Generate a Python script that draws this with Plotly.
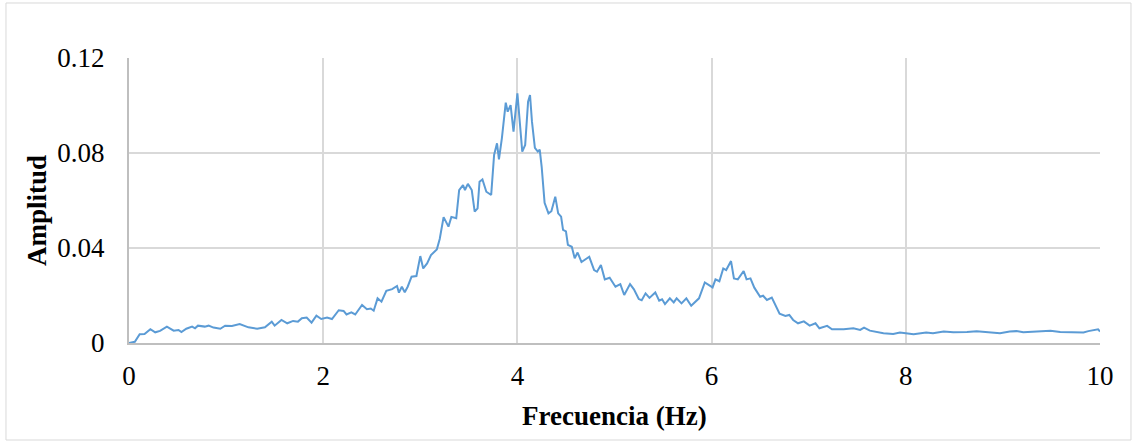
import plotly.graph_objects as go

freq = [0.00, 0.06, 0.11, 0.16, 0.22, 0.27, 0.32, 0.39, 0.46, 0.51, 0.54, 0.59, 0.65, 0.68, 0.71,
        0.78, 0.82, 0.87, 0.94, 0.99, 1.06, 1.14, 1.23, 1.32, 1.40, 1.47, 1.50, 1.57, 1.63, 1.69,
        1.74, 1.78, 1.83, 1.88, 1.93, 1.98, 2.04, 2.09, 2.16, 2.21, 2.24, 2.29, 2.33, 2.36, 2.40,
        2.45, 2.49, 2.52, 2.56, 2.60, 2.65, 2.71, 2.76, 2.78, 2.81, 2.84, 2.87, 2.91, 2.96, 3.00,
        3.03, 3.07, 3.11, 3.17, 3.20, 3.24, 3.29, 3.32, 3.37, 3.40, 3.44, 3.46, 3.49, 3.53, 3.56,
        3.59, 3.61, 3.64, 3.68, 3.73, 3.76, 3.79, 3.81, 3.84, 3.88, 3.90, 3.93, 3.96, 4.00, 4.05,
        4.08, 4.11, 4.13, 4.15, 4.18, 4.21, 4.23, 4.25, 4.28, 4.32, 4.35, 4.39, 4.42, 4.45, 4.47,
        4.50, 4.52, 4.56, 4.59, 4.62, 4.66, 4.74, 4.79, 4.82, 4.86, 4.90, 4.95, 5.01, 5.06, 5.10,
        5.16, 5.20, 5.25, 5.28, 5.32, 5.36, 5.42, 5.46, 5.49, 5.52, 5.57, 5.61, 5.64, 5.69, 5.74,
        5.79, 5.83, 5.87, 5.93, 6.01, 6.04, 6.08, 6.12, 6.15, 6.20, 6.23, 6.27, 6.33, 6.36, 6.40,
        6.44, 6.50, 6.53, 6.57, 6.62, 6.70, 6.76, 6.80, 6.84, 6.89, 6.95, 7.01, 7.07, 7.11, 7.19,
        7.24, 7.36, 7.46, 7.53, 7.57, 7.63, 7.77, 7.87, 7.94, 8.08, 8.21, 8.28, 8.39, 8.49, 8.63,
        8.73, 8.87, 8.97, 9.07, 9.14, 9.21, 9.31, 9.49, 9.59, 9.73, 9.83, 9.88, 9.98, 10.00]

amplitude = [0.0000, 0.0005, 0.0037, 0.0038, 0.0058, 0.0045, 0.0051, 0.0069, 0.0052, 0.0055, 0.0046, 0.0060, 0.0069, 0.0062, 0.0073,
             0.0069, 0.0073, 0.0065, 0.0060, 0.0073, 0.0072, 0.0080, 0.0066, 0.0060, 0.0066, 0.0090, 0.0073, 0.0097, 0.0083, 0.0093,
             0.0090, 0.0104, 0.0107, 0.0086, 0.0115, 0.0101, 0.0107, 0.0101, 0.0138, 0.0135, 0.0120, 0.0129, 0.0120, 0.0139, 0.0160,
             0.0142, 0.0145, 0.0136, 0.0188, 0.0174, 0.0220, 0.0227, 0.0240, 0.0212, 0.0237, 0.0214, 0.0237, 0.0279, 0.0282, 0.0366,
             0.0314, 0.0335, 0.0370, 0.0394, 0.0438, 0.0530, 0.0490, 0.0531, 0.0525, 0.0644, 0.0665, 0.0644, 0.0670, 0.0644, 0.0553,
             0.0567, 0.0679, 0.0689, 0.0637, 0.0623, 0.0792, 0.0841, 0.0773, 0.0862, 0.1012, 0.0974, 0.1002, 0.0890, 0.1051, 0.0806,
             0.0834, 0.1016, 0.1044, 0.0932, 0.0822, 0.0806, 0.0814, 0.0742, 0.0590, 0.0546, 0.0555, 0.0616, 0.0546, 0.0532, 0.0476,
             0.0470, 0.0413, 0.0405, 0.0357, 0.0381, 0.0341, 0.0363, 0.0307, 0.0300, 0.0328, 0.0268, 0.0275, 0.0237, 0.0248, 0.0202,
             0.0248, 0.0226, 0.0185, 0.0180, 0.0209, 0.0190, 0.0213, 0.0178, 0.0184, 0.0164, 0.0188, 0.0171, 0.0188, 0.0167, 0.0188,
             0.0157, 0.0174, 0.0188, 0.0255, 0.0234, 0.0268, 0.0260, 0.0314, 0.0307, 0.0345, 0.0272, 0.0268, 0.0303, 0.0268, 0.0272,
             0.0233, 0.0195, 0.0199, 0.0181, 0.0191, 0.0123, 0.0114, 0.0118, 0.0097, 0.0083, 0.0091, 0.0073, 0.0083, 0.0062, 0.0072,
             0.0058, 0.0058, 0.0062, 0.0055, 0.0065, 0.0052, 0.0041, 0.0038, 0.0044, 0.0037, 0.0044, 0.0041, 0.0048, 0.0045, 0.0046,
             0.0050, 0.0045, 0.0041, 0.0048, 0.0050, 0.0045, 0.0048, 0.0052, 0.0046, 0.0045, 0.0044, 0.0050, 0.0058, 0.0048]

x_ticks = [0, 2, 4, 6, 8, 10]
x_tick_labels = ["0", "2", "4", "6", "8", "10"]
y_ticks = [0, 0.04, 0.08, 0.12]
y_tick_labels = ["0", "0.04", "0.08", "0.12"]

x_title = "Frecuencia (Hz)"
y_title = "Amplitud"

FONT = "Liberation Serif, Times New Roman, serif"

fig = go.Figure()
fig.add_trace(go.Scatter(x=freq, y=amplitude, mode="lines",
                         line=dict(color="#5b9bd5", width=2), hoverinfo="skip"))

fig.update_layout(
    width=1137, height=446,
    margin=dict(l=129, r=37, t=58, b=103),
    paper_bgcolor="white", plot_bgcolor="white",
    showlegend=False,
    font=dict(family=FONT, size=27, color="black"),
    xaxis=dict(range=[0, 10], tickvals=x_ticks, ticktext=x_tick_labels,
               showgrid=True, gridcolor="#d9d9d9", gridwidth=1.5,
               showline=True, linecolor="#bfbfbf", linewidth=2,
               ticks="outside", ticklen=8, tickcolor="rgba(0,0,0,0)",
               zeroline=False, fixedrange=True),
    yaxis=dict(range=[0, 0.12], tickvals=y_ticks, ticktext=y_tick_labels,
               showgrid=True, gridcolor="#d9d9d9", gridwidth=1.5,
               showline=True, linecolor="#bfbfbf", linewidth=2,
               ticks="outside", ticklen=17, tickcolor="rgba(0,0,0,0)",
               zeroline=False, fixedrange=True),
    annotations=[
        dict(text="<b>" + x_title + "</b>", xref="paper", yref="paper",
             x=0.5005, y=-0.256, xanchor="center", yanchor="middle",
             showarrow=False, font=dict(family=FONT, size=27, color="black")),
        dict(text="<b>" + y_title + "</b>", xref="paper", yref="paper",
             x=-0.0947, y=0.463, xanchor="center", yanchor="middle", textangle=-90,
             showarrow=False, font=dict(family=FONT, size=27, color="black")),
    ],
    shapes=[dict(type="rect", xref="paper", yref="paper",
                 x0=-0.1267, x1=1.0319, y0=-0.3404, y1=1.193,
                 line=dict(color="#d9d9d9", width=1), fillcolor="rgba(0,0,0,0)", layer="below")],
)

fig.write_html("out.html", config={"displayModeBar": False},
               post_script="document.body.style.margin='0';document.body.style.overflow='hidden';")
